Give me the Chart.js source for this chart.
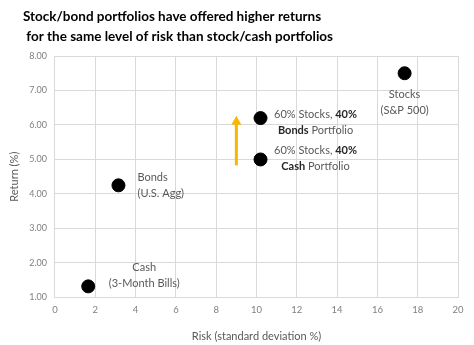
<!DOCTYPE html>
<html>
<head>
<meta charset="utf-8">
<script src="https://cdn.jsdelivr.net/npm/chart.js@4.4.1/dist/chart.umd.min.js"></script>
<style>
  html, body { margin: 0; padding: 0; background: #fff; }
  #wrap { width: 474px; height: 345px; }
</style>
</head>
<body>
<div id="wrap"><canvas id="riskChart"></canvas></div>
<script>
// portfolios: name, risk (std dev %), return (%)
const portfolios = ['Cash', 'Bonds', '60/40 Cash', '60/40 Bonds', 'Stocks'];
const riskValues = [1.65, 3.15, 10.2, 10.2, 17.35];
const returnValues = [1.32, 4.25, 5.0, 6.2, 7.5];

// label text per point, each line split into [text, bold] runs
const pointLabels = [
  [[['Cash', false]], [['(3-Month Bills)', false]]],
  [[['Bonds', false]], [['(U.S. Agg)', false]]],
  [[['60% Stocks, ', false], ['40%', true]], [['Cash', true], [' Portfolio', false]]],
  [[['60% Stocks, ', false], ['40%', true]], [['Bonds', true], [' Portfolio', false]]],
  [[['Stocks', false]], [['(S&P 500)', false]]]
];
// label anchor offsets from the point (px) and how lines line up
const labelOffsets = [[56, -11], [19, 0], [55, -1], [55, 4], [0, 29]];
const labelAlign = ['center', 'left', 'center', 'center', 'center'];

const xTicks = [0, 2, 4, 6, 8, 10, 12, 14, 16, 18, 20];
const yTicks = [1, 2, 3, 4, 5, 6, 7, 8];

const titleLines = ['Stock/bond portfolios have offered higher returns', ' for the same level of risk than stock/cash portfolios'];

// the upward arrow between the two 60/40 portfolios
const arrowRisk = 9.0;
const arrowFrom = 4.83;
const arrowTo = 6.27;

const FONT = 'Lato, "Open Sans", sans-serif';
const GREY = '#595959';

const labelPlugin = {
  id: 'pointText',
  afterDraw(chart) {
    const ctx = chart.ctx;
    const x = chart.scales.x, y = chart.scales.y;
    ctx.save();
    ctx.textBaseline = 'middle';

    // heading
    ctx.font = 'bold 13.5px ' + FONT;
    ctx.fillStyle = '#000';
    ctx.textAlign = 'left';
    ctx.fillText(titleLines[0], 23, 17);
    ctx.fillText(titleLines[1], 23, 37);

    for (let i = 0; i < portfolios.length; i++) {
      const px = x.getPixelForValue(riskValues[i]) + labelOffsets[i][0];
      const py = y.getPixelForValue(returnValues[i]) + labelOffsets[i][1];
      const lines = pointLabels[i];
      const lh = 16;
      lines.forEach((runs, li) => {
        let w = 0;
        runs.forEach(r => {
          ctx.font = (r[1] ? 'bold ' : '') + '11px ' + FONT;
          w += ctx.measureText(r[0]).width;
        });
        let cx = labelAlign[i] === 'left' ? px : px - w / 2;
        const cy = py + (li - (lines.length - 1) / 2) * lh;
        runs.forEach(r => {
          ctx.font = (r[1] ? 'bold ' : '') + '11px ' + FONT;
          ctx.fillStyle = r[1] ? '#262626' : GREY;
          ctx.fillText(r[0], cx, cy);
          cx += ctx.measureText(r[0]).width;
        });
      });
    }

    // arrow
    const ax = x.getPixelForValue(arrowRisk);
    const a0 = y.getPixelForValue(arrowFrom);
    const a1 = y.getPixelForValue(arrowTo);
    ctx.strokeStyle = '#F5B700';
    ctx.fillStyle = '#F5B700';
    ctx.lineWidth = 3;
    ctx.beginPath();
    ctx.moveTo(ax, a0);
    ctx.lineTo(ax, a1 + 8);
    ctx.stroke();
    ctx.beginPath();
    ctx.moveTo(ax, a1);
    ctx.lineTo(ax - 5, a1 + 9);
    ctx.lineTo(ax + 5, a1 + 9);
    ctx.closePath();
    ctx.fill();
    ctx.restore();
  }
};

const chartData = {
  datasets: [{
    data: riskValues.map((r, i) => ({ x: r, y: returnValues[i] })),
    backgroundColor: '#000',
    borderColor: '#000',
    pointRadius: 6.5,
    pointHoverRadius: 6.5
  }]
};

const config = {
  type: 'scatter',
  data: chartData,
  options: {
    responsive: false,
    animation: false,
    layout: { padding: { left: 0, right: 16, top: 56, bottom: 0 } },
    plugins: {
      legend: { display: false },
      tooltip: { enabled: false }
    },
    scales: {
      x: {
        type: 'linear',
        min: 0, max: 20,
        afterBuildTicks: s => { s.ticks = xTicks.map(v => ({ value: v })); },
        grid: { color: '#d9d9d9', drawTicks: false },
        border: { color: '#d9d9d9' },
        ticks: { color: '#7f7f7f', font: { family: FONT, size: 9.5 }, padding: 7 },
        title: { display: true, text: 'Risk (standard deviation %)', color: GREY, font: { family: FONT, size: 11 }, padding: { top: 7, bottom: 2 } }
      },
      y: {
        type: 'linear',
        min: 1, max: 8,
        afterBuildTicks: s => { s.ticks = yTicks.map(v => ({ value: v })); },
        grid: { color: '#d9d9d9', drawTicks: false },
        border: { color: '#d9d9d9' },
        ticks: { color: '#7f7f7f', font: { family: FONT, size: 9 }, padding: 8, callback: v => v.toFixed(2) },
        title: { display: true, text: 'Return (%)', color: GREY, font: { family: FONT, size: 11 }, padding: { top: 8, bottom: 0 } }
      }
    }
  },
  plugins: [labelPlugin]
};

const canvas = document.getElementById('riskChart');
canvas.width = 474;
canvas.height = 345;
new Chart(canvas, config);
</script>
</body>
</html>
